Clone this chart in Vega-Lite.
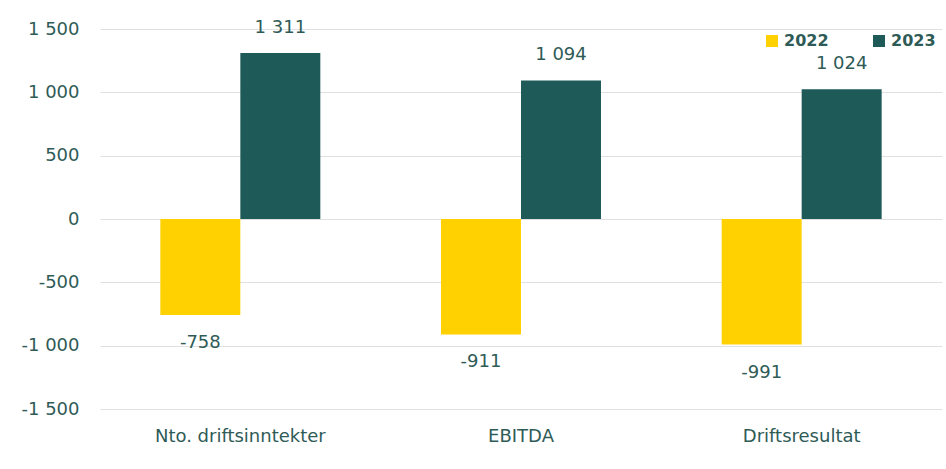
{
  "$schema": "https://vega.github.io/schema/vega-lite/v6.json",
  "autosize": "none",
  "width": 842,
  "height": 380,
  "padding": {"left": 100, "top": 29, "right": 4, "bottom": 60},
  "background": "#ffffff",
  "config": {
    "locale": {"number": {"decimal": ",", "thousands": "\u00a0", "grouping": [3], "currency": ["", " kr"], "minus": "-"}},
    "font": "DejaVu Sans",
    "view": {"stroke": null},
    "axis": {"labelColor": "#2f5b57", "labelFontSize": 18, "domain": false, "ticks": false, "title": null}
  },
  "data": {
    "values": [
      {"kategori": "Nto. driftsinntekter", "aar": "2022", "verdi": -758},
      {"kategori": "Nto. driftsinntekter", "aar": "2023", "verdi": 1311},
      {"kategori": "EBITDA", "aar": "2022", "verdi": -911},
      {"kategori": "EBITDA", "aar": "2023", "verdi": 1094},
      {"kategori": "Driftsresultat", "aar": "2022", "verdi": -991},
      {"kategori": "Driftsresultat", "aar": "2023", "verdi": 1024}
    ]
  },
  "encoding": {
    "x": {
      "field": "kategori", "type": "nominal", "sort": null,
      "scale": {"paddingInner": 0.43, "paddingOuter": 0.215},
      "axis": {"labelAngle": 0, "labelPadding": 18, "grid": false}
    },
    "xOffset": {"field": "aar", "type": "nominal", "scale": {"paddingInner": 0}},
    "y": {
      "field": "verdi", "type": "quantitative",
      "scale": {"domain": [-1500, 1500], "nice": false},
      "axis": {"values": [-1500, -1000, -500, 0, 500, 1000, 1500], "format": ",d", "labelPadding": 21, "grid": true, "gridColor": "#e0e0e0", "gridWidth": 1}
    }
  },
  "layer": [
    {
      "mark": {"type": "bar"},
      "encoding": {
        "color": {
          "field": "aar", "type": "nominal",
          "scale": {"domain": ["2022", "2023"], "range": ["#ffd100", "#1e5b58"]},
          "legend": {
            "title": null, "orient": "none", "legendX": 664, "legendY": 4, "direction": "horizontal",
            "symbolType": "square", "symbolSize": 144, "symbolStrokeWidth": 0,
            "labelFontSize": 16, "labelFontWeight": "bold", "labelColor": "#2f5b57",
            "columnPadding": 42, "labelOffset": 4
          }
        }
      }
    },
    {
      "transform": [{"filter": "datum.verdi >= 0"}],
      "mark": {"type": "text", "fontSize": 18, "color": "#2f5b57", "baseline": "middle", "dy": -25},
      "encoding": {
        "text": {"field": "verdi", "type": "quantitative", "format": ",d"}
      }
    },
    {
      "transform": [{"filter": "datum.verdi < 0"}],
      "mark": {"type": "text", "fontSize": 18, "color": "#2f5b57", "baseline": "middle", "dy": 28},
      "encoding": {
        "text": {"field": "verdi", "type": "quantitative", "format": ",d"}
      }
    }
  ]
}
